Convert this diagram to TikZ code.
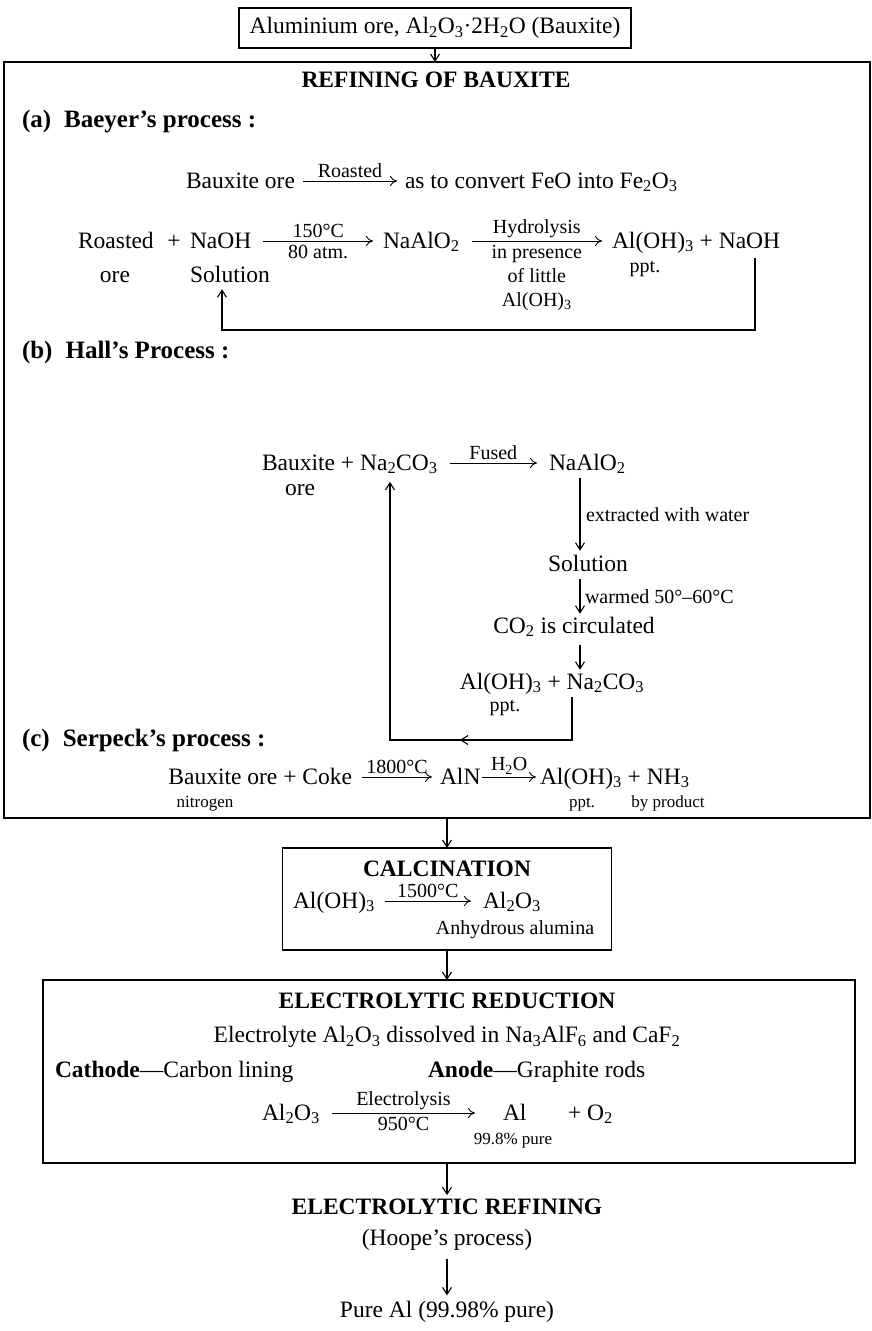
\documentclass[tikz,border=0pt]{standalone}
\usepackage{fontspec}
\setmainfont{Liberation Serif}
\usetikzlibrary{arrows.meta,calc}
\newcommand\chsub[1]{\textsubscript{#1}}
\newcommand\mainsize{\fontsize{23.5}{27}\selectfont}
\newcommand\headsize{\fontsize{25}{29}\selectfont}
\newcommand\lblsize{\fontsize{20}{24}\selectfont}
\newcommand\tinsize{\fontsize{17}{20}\selectfont}
\begin{document}
\begin{tikzpicture}[x=1pt,y=-1pt,
  every node/.style={inner sep=0pt,outer sep=0pt,font=\mainsize},
  frame/.style={draw,line width=1.8pt},
  arr/.style={line width=1.1pt,-{Straight Barb[length=7pt,width=9pt]}},
  rxn/.style={line width=0.9pt,-{To[length=7pt,width=10pt]}},
  lbl/.style={font=\lblsize},
  tin/.style={font=\tinsize},
  hd/.style={font=\mainsize\bfseries},
  sec/.style={font=\headsize\bfseries,anchor=west}]
\useasboundingbox (0,0) rectangle (871,1331);

% top box
\node[frame, minimum width=392, minimum height=40] (ore) at (435,28) {Aluminium ore, Al\chsub2O\chsub3·2H\chsub2O (Bauxite)};
\node[frame, anchor=north west, minimum width=866, minimum height=756] (refbox) at (4,62) {};
\draw[arr] (ore.south) -- (ore.south |- refbox.north);
\node[hd] (reftitle) at (436,80) {REFINING OF BAUXITE};

% (a) Baeyer
\node[sec] (ha) at (22,122) {(a)\hspace{13pt}Baeyer’s process :};
\node[anchor=base west] (b1) at (186,188) {Bauxite ore};
\node[anchor=base west] (b1r) at (405,188) {as to convert FeO into Fe\chsub2O\chsub3};
\draw[rxn] ($(b1.base east)+(8,-7)$) -- ($(b1r.base west)+(-8,-7)$) node[midway,above=3pt,lbl] {Roasted};

\node[anchor=base west] (r2a) at (78,248) {Roasted};
\node[anchor=base] (r2p) at (174,248) {+};
\node[anchor=base west] (r2b) at (190,248) {NaOH};
\node[anchor=base west] (r2c) at (383,248) {NaAlO\chsub2};
\node[anchor=base west] (r2d) at (612,248) {Al(OH)\chsub3 + NaOH};
\node[anchor=base] (r2ore) at (115,282) {ore};
\node[anchor=base] (r2sol) at (230,282) {Solution};
\node[anchor=base, lbl] (r2ppt) at (645,272) {ppt.};
\draw[rxn] ($(r2b.base east)+(12,-7)$) -- ($(r2c.base west)+(-10,-7)$)
  node[midway,above=3pt,lbl]{150°C} node[midway,below=4pt,lbl]{80 atm.};
\draw[rxn] ($(r2c.base east)+(12,-7)$) -- ($(r2d.base west)+(-10,-7)$)
  node[midway,above=3pt,lbl]{Hydrolysis}
  node[midway,below=4pt,lbl,align=center]{in presence\\of little\\Al(OH)\chsub3};
\coordinate (l1) at (755,258);
\coordinate (l2) at (755,330);
\coordinate (l3) at (222,330);
\draw[arr] (l1) -- (l2) -- (l3) -- ($(l3 |- r2sol.south)+(0,7)$);

% (b) Hall
\node[sec] (hb) at (22,352) {(b)\hspace{13pt}Hall’s Process :};
\node[anchor=base west] (h1) at (262,470) {Bauxite + Na\chsub2CO\chsub3};
\node[anchor=base west] (h2) at (549,470) {NaAlO\chsub2};
\draw[rxn] ($(h1.base east)+(12,-7)$) -- ($(h2.base west)+(-12,-7)$) node[midway,above=3pt,lbl]{Fused};
\node[anchor=base] (hore) at (300,495) {ore};
\node[anchor=base] (hsol) at (588,571) {Solution};
\node[anchor=base] (hco2) at (574,633) {CO\chsub2 is circulated};
\node[anchor=base] (hprod) at (552,689) {Al(OH)\chsub3 + Na\chsub2CO\chsub3};
\node[anchor=base,lbl] (hppt) at (505,711) {ppt.};
\coordinate (hx) at ($(h2.base west)+(31,8)$);
\draw[arr] (hx) -- ($(hx |- hsol.north)+(0,-4)$) node[midway,anchor=west,xshift=6pt,lbl]{extracted with water};
\draw[arr] ($(hx |- hsol.south)+(0,8)$) -- ($(hx |- hco2.north)+(0,-3)$) node[midway,anchor=west,xshift=5pt,lbl]{warmed 50°–60°C};
\draw[arr] ($(hx |- hco2.south)+(0,8)$) -- ($(hx |- hprod.north)+(0,-3)$);
\coordinate (hl1) at ($(hprod.base)+(20,8)$);
\coordinate (hl2) at (hl1 |- 0,740);
\coordinate (hl3) at (390,740);
\draw[arr] (hl1) -- (hl2) -- (hl3) -- ($(hl3 |- h1.south)+(0,8)$);
\draw[arr] (hl2) -- (460,740);

% (c) Serpeck
\node[sec] (hc) at (22,740) {(c)\hspace{13pt}Serpeck’s process :};
\node[anchor=base east] (s1) at (352,784) {Bauxite ore + Coke};
\node[anchor=base west] (s2) at (440,784) {AlN};
\node[anchor=base west] (s3) at (540,784) {Al(OH)\chsub3 + NH\chsub3};
\draw[rxn] ($(s1.base east)+(10,-7)$) -- ($(s2.base west)+(-8,-7)$) node[midway,above=3pt,lbl]{1800°C};
\draw[rxn] ($(s2.base east)+(2,-7)$) -- ($(s3.base west)+(-4,-7)$) node[midway,above=3pt,lbl]{H\chsub2O};
\node[anchor=base,tin] (snit) at (205,807) {nitrogen};
\node[anchor=base,tin] (sppt) at (582,807) {ppt.};
\node[anchor=base,tin] (sby) at (668,807) {by product};

% calcination
\node[frame, minimum width=329, minimum height=102] (calc) at (447,899) {};
\draw[arr] (calc.north |- refbox.south) -- (calc.north);
\node[hd] (calct) at (447,869) {CALCINATION};
\node[anchor=base west] (c1) at (293,908) {Al(OH)\chsub3};
\node[anchor=base west] (c2) at (483,908) {Al\chsub2O\chsub3};
\draw[rxn] ($(c1.base east)+(10,-7)$) -- ($(c2.base west)+(-12,-7)$) node[midway,above=3pt,lbl]{1500°C};
\node[anchor=base,lbl] (canh) at (515,934) {Anhydrous alumina};

% electrolytic reduction
\node[frame, anchor=north west, minimum width=812, minimum height=183] (elec) at (43,980) {};
\draw[arr] (calc.south) -- (calc.south |- elec.north);
\node[hd] (elect) at (447,1001) {ELECTROLYTIC REDUCTION};
\node (ele1) at (447,1037) {Electrolyte Al\chsub2O\chsub3 dissolved in Na\chsub3AlF\chsub6 and CaF\chsub2};
\node[anchor=base west] (cat) at (55,1077) {\textbf{Cathode}—Carbon lining};
\node[anchor=base west] (ano) at (428,1077) {\textbf{Anode}—Graphite rods};
\node[anchor=base west] (e1) at (262,1120) {Al\chsub2O\chsub3};
\node[anchor=base west] (e2) at (503,1120) {Al};
\node[anchor=base west] (e3) at (568,1120) {+ O\chsub2};
\node[anchor=base,tin] (e99) at (513,1144) {99.8\% pure};
\draw[rxn] ($(e1.base east)+(12,-7)$) -- ($(e2.base west)+(-28,-7)$)
  node[midway,above=3pt,lbl]{Electrolysis} node[midway,below=4pt,lbl]{950°C};

% refining
\node[hd] (refin) at (447,1207) {ELECTROLYTIC REFINING};
\draw[arr] (elec.south -| refin.north) -- ($(refin.north)+(0,-4)$);
\node (hoope) at (447,1240) {(Hoope’s process)};
\node (pure) at (447,1312) {Pure Al (99.98\% pure)};
\draw[arr] ($(hoope.south)+(0,8)$) -- ($(pure.north)+(0,-6)$);
\end{tikzpicture}
\end{document}
